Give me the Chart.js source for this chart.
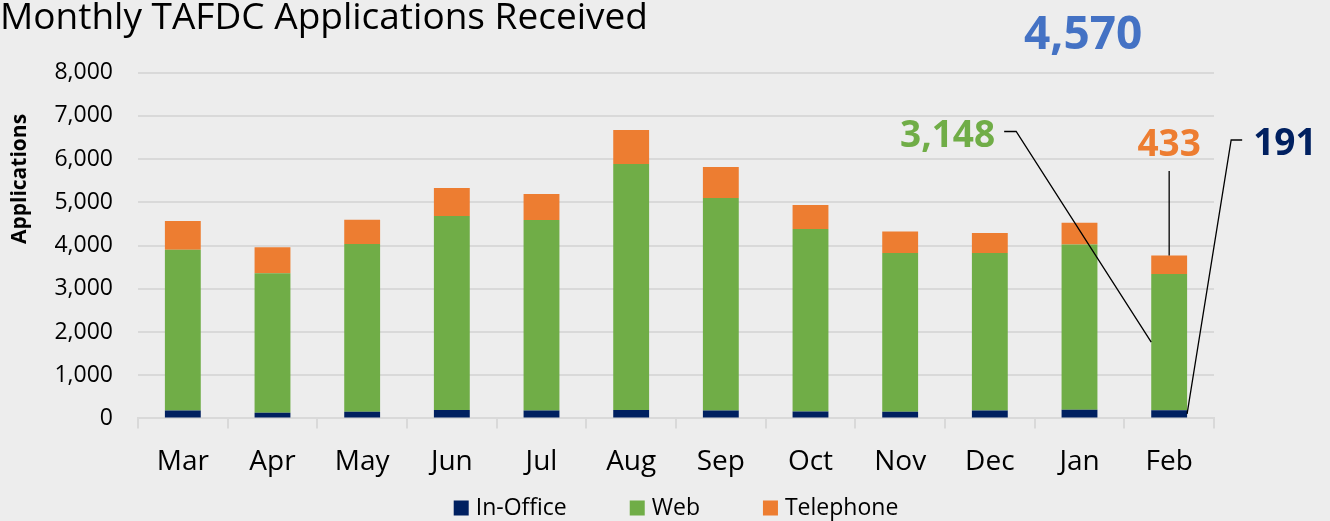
<!DOCTYPE html>
<html>
<head>
<meta charset="utf-8">
<title>Monthly TAFDC Applications Received</title>
<script src="https://cdn.jsdelivr.net/npm/chart.js@4.4.1/dist/chart.umd.min.js"></script>
<style>
  html, body { margin: 0; padding: 0; background: #ededed; }
  #wrap { width: 1330px; height: 521px; }
</style>
</head>
<body>
<div id="wrap"><canvas id="canvas1" width="1330" height="521"></canvas></div>
<script>
// values
var months    = ['Mar', 'Apr', 'May', 'Jun', 'Jul', 'Aug', 'Sep', 'Oct', 'Nov', 'Dec', 'Jan', 'Feb'];
var inOffice  = [182, 130, 155, 195, 180, 195, 180, 160, 155, 180, 200, 191];
var web       = [3720, 3230, 3880, 4490, 4410, 5690, 4920, 4220, 3670, 3650, 3825, 3148];
var telephone = [668, 600, 560, 645, 605, 790, 715, 560, 500, 460, 500, 433];
var yTicks    = [0, 1000, 2000, 3000, 4000, 5000, 6000, 7000, 8000];

var seriesNames  = ['In-Office', 'Web', 'Telephone'];
var seriesColors = ['#002060', '#70AD47', '#ED7D31'];

var FONT = "'Open Sans', sans-serif";

function fmt(n) { return n.toLocaleString('en-US'); }

// callouts for the latest month + last year's total, the y title and the legend under the axis
var callouts = {
    id: 'callouts',
    afterDatasetsDraw: function(chart) {
        var ctx = chart.ctx;
        var last = months.length - 1;
        var office = chart.getDatasetMeta(0).data[last];
        var webBar = chart.getDatasetMeta(1).data[last];
        var telBar = chart.getDatasetMeta(2).data[last];
        var x = webBar.x, half = webBar.width / 2;
        var firstTotal = inOffice[0] + web[0] + telephone[0];

        ctx.save();
        ctx.strokeStyle = '#000';
        ctx.lineWidth = 1.3;

        ctx.beginPath();
        ctx.moveTo(x - 165, 131.5);
        ctx.lineTo(x - 153, 131.5);
        ctx.lineTo(x - half, (webBar.y + webBar.base) / 2);
        ctx.stroke();

        ctx.beginPath();
        ctx.moveTo(x, 171);
        ctx.lineTo(x, telBar.y);
        ctx.stroke();

        ctx.beginPath();
        ctx.moveTo(x + 73, 140);
        ctx.lineTo(x + 62, 140);
        ctx.lineTo(x + half, (office.y + office.base) / 2);
        ctx.stroke();

        ctx.textBaseline = 'alphabetic';
        ctx.font = 'bold 46px ' + FONT;
        ctx.fillStyle = '#4472C4';
        ctx.textAlign = 'center';
        ctx.fillText(fmt(firstTotal), x - 86, 49);

        ctx.font = 'bold 37px ' + FONT;
        ctx.fillStyle = seriesColors[1];
        ctx.textAlign = 'right';
        ctx.fillText(fmt(web[last]), x - 174, 147);

        ctx.fillStyle = seriesColors[2];
        ctx.textAlign = 'center';
        ctx.fillText(fmt(telephone[last]), x, 156);

        ctx.fillStyle = seriesColors[0];
        ctx.textAlign = 'left';
        ctx.fillText(fmt(inOffice[last]), x + 84, 155);
        ctx.restore();
    },
    afterDraw: function(chart) {
        var ctx = chart.ctx;
        var area = chart.chartArea;

        // y axis title sits above the middle of the axis
        ctx.save();
        ctx.translate(20, 179);
        ctx.rotate(-Math.PI / 2);
        ctx.font = 'bold 21px ' + FONT;
        ctx.fillStyle = '#000';
        ctx.textAlign = 'center';
        ctx.textBaseline = 'middle';
        ctx.fillText('Applications', 0, 0);
        ctx.restore();

        var box = 15, gap = 7, spacing = 63;
        ctx.save();
        ctx.font = '23px ' + FONT;
        var widths = seriesNames.map(function(n) { return box + gap + ctx.measureText(n).width; });
        var total = widths.reduce(function(a, b) { return a + b; }, 0) + spacing * (widths.length - 1);
        var lx = (area.left + area.right) / 2 - total / 2;
        ctx.textAlign = 'left';
        ctx.textBaseline = 'alphabetic';
        for (var i = 0; i < seriesNames.length; i++) {
            ctx.fillStyle = seriesColors[i];
            ctx.fillRect(lx, 500.5, box, box);
            ctx.fillStyle = '#000';
            ctx.fillText(seriesNames[i], lx + box + gap, 515);
            lx += widths[i] + spacing;
        }
        ctx.restore();
    }
};

var chartdata = {
    labels: months,
    datasets: [
        { label: seriesNames[0], data: inOffice,  backgroundColor: seriesColors[0] },
        { label: seriesNames[1], data: web,       backgroundColor: seriesColors[1] },
        { label: seriesNames[2], data: telephone, backgroundColor: seriesColors[2] }
    ]
};

var ctx = document.getElementById('canvas1');
var barGraph = new Chart(ctx, {
    type: 'bar',
    data: chartdata,
    plugins: [callouts],
    options: {
        responsive: false,
        animation: false,
        layout: { padding: { left: 0, right: 116, top: 0, bottom: 25 } },
        datasets: { bar: { categoryPercentage: 1, barPercentage: 0.4 } },
        plugins: {
            legend: { display: false },
            tooltip: { enabled: false },
            title: {
                display: true,
                text: 'Monthly TAFDC Applications Received',
                align: 'start',
                color: '#000',
                font: { family: FONT, size: 37, weight: 'normal', lineHeight: 0.98 },
                padding: { top: 0, bottom: 36.4 }
            }
        },
        scales: {
            x: {
                stacked: true,
                grid: { display: true, drawOnChartArea: false, drawTicks: true, tickLength: 10,
                        color: '#d9d9d9', lineWidth: 2, offset: true },
                border: { display: true, color: '#d9d9d9', width: 2 },
                ticks: { color: '#000', font: { family: FONT, size: 28 }, padding: 17,
                         maxRotation: 0, autoSkip: false }
            },
            y: {
                stacked: true,
                min: yTicks[0],
                max: yTicks[yTicks.length - 1],
                afterFit: function(s) { s.width = 138; },
                afterBuildTicks: function(s) { s.ticks = yTicks.map(function(v) { return { value: v }; }); },
                grid: { color: '#d9d9d9', lineWidth: 2, drawTicks: false },
                border: { display: false },
                ticks: { color: '#000', font: { family: FONT, size: 23 }, padding: 25,
                         callback: function(v) { return fmt(v); } }
            }
        }
    }
});
</script>
</body>
</html>
